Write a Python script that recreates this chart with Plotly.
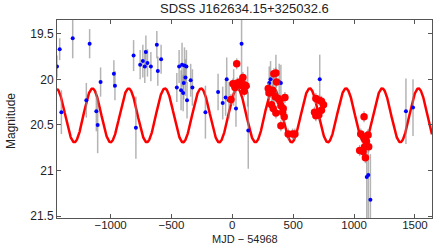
import numpy as np
import plotly.graph_objects as go

# Blue points (older survey photometry)
blue_x = [-1440, -1418, -1404, -1311, -1172, -1199, -1117, -1106, -1082, -973, -964,
          -811, -792, -757, -735, -719, -710, -697, -669, -620, -612, -585,
          -456, -437, -421, -413, -404, -399, -393, -385, -377, -372, -342, -328,
          -221, -117, -79, -55, -46, -27, 11, 30, 76, 126, 131,
          303, 314, 328, 341, 358, 385, 399, 718, 1104, 1117, 1134, 1426, 1484]
blue_y = [19.86, 19.67, 20.36, 19.55, 19.61, 20.23, 20.35, 20.50, 20.03, 19.94, 20.07,
          19.74, 20.53, 19.84, 19.80, 19.86, 19.70, 19.82, 19.86, 19.62, 19.91, 19.78,
          20.09, 19.86, 20.12, 19.84, 20.15, 20.04, 19.85, 19.98, 19.86, 20.23, 20.01, 20.09,
          20.36, 20.14, 20.26, 20.20, 20.00, 20.23, 20.09, 20.32, 19.61, 20.08, 20.56,
          20.04, 20.00, 20.16, 20.15, 19.95, 20.03, 20.04, 20.00, 21.07, 21.05, 21.32, 20.35, 20.31]
blue_err = [0.12, 0.12, 0.24, 0.22, 0.16, 0.19, 0.22, 0.31, 0.16, 0.15, 0.16,
            0.17, 0.34, 0.16, 0.18, 0.18, 0.18, 0.15, 0.16, 0.15, 0.16, 0.16,
            0.16, 0.18, 0.22, 0.24, 0.20, 0.18, 0.20, 0.20, 0.18, 0.20, 0.18, 0.20,
            0.29, 0.20, 0.18, 0.20, 0.24, 0.20, 0.20, 0.20, 0.45, 0.22, 0.42,
            0.18, 0.20, 0.20, 0.20, 0.22, 0.20, 0.20, 0.27, 0.50, 0.50, 0.50, 0.36, 0.31]

# Red points (newer photometry)
red_x = [36, 5, 41, 63, 87, 79, 98, 112, 98, 22, 49, -11,
         341, 358, 363, 295, 301, 331, 352, 322, 377, 391, 399, 432, 418, 358, 413, 426, 399,
         459, 495, 514, 336,
         686, 713, 732, 749, 732, 675, 710, 686,
         1082, 1055, 1079, 1093, 1115, 1087, 1120, 1046, 1074, 1093, 1101]
red_y = [19.83, 20.05, 20.04, 20.03, 19.98, 20.07, 20.06, 20.07, 20.13, 20.09, 20.06, 20.22,
         19.94, 19.93, 20.03, 20.10, 20.15, 20.12, 20.19, 20.28, 20.21, 20.24, 20.29, 20.20,
         20.32, 20.37, 20.36, 20.41, 20.51, 20.60, 20.60, 20.60, 20.32,
         20.21, 20.23, 20.24, 20.28, 20.34, 20.36, 20.39, 20.40,
         20.41, 20.60, 20.63, 20.66, 20.61, 20.74, 20.74, 20.78, 20.79, 20.86, 20.68]
red_err = [0.06] * len(red_x)

# Sinusoidal model parameters
model_mean = 20.395
model_amp = 0.295
model_period = 297.5
model_peak = 636.0

x_range = [-1440, 1640]
y_range = [21.52, 19.35]
x_ticks = [-1000, -500, 0, 500, 1000, 1500]
y_ticks = [19.5, 20, 20.5, 21, 21.5]
y_ticklabels = ["19.5", "20", "20.5", "21", "21.5"]

mx = np.linspace(x_range[0], x_range[1], 2000)
my = model_mean - model_amp * np.cos(2 * np.pi * (mx - model_peak) / model_period)

fig = go.Figure()
fig.add_trace(go.Scatter(x=mx, y=my, mode="lines",
                         line=dict(color="#ff0000", width=2.5), hoverinfo="skip"))
fig.add_trace(go.Scatter(x=blue_x, y=blue_y, mode="markers",
                         marker=dict(color="#0000ff", size=4, symbol="circle"),
                         error_y=dict(type="data", array=blue_err, color="rgba(140,140,140,0.65)",
                                      thickness=1.5, width=0)))
fig.add_trace(go.Scatter(x=red_x, y=red_y, mode="markers",
                         marker=dict(color="#ff0000", size=7.5, symbol="circle"),
                         error_y=dict(type="data", array=red_err, color="rgba(140,140,140,0.65)",
                                      thickness=1.5, width=0)))

font_family = "Liberation Sans, Arial, sans-serif"
W, H = 436, 245
L, R, T, B = 57, 4, 20, 27
pw, ph = W - L - R, H - T - B

fig.update_layout(
    width=W, height=H,
    margin=dict(l=L, r=R, t=T, b=B, autoexpand=False),
    paper_bgcolor="white", plot_bgcolor="white",
    showlegend=False,
    font=dict(family=font_family, size=12, color="#222222"),
)
fig.add_annotation(text="SDSS J162634.15+325032.6", xref="paper", yref="paper",
                   x=0.5, y=1 + 11.5 / ph, xanchor="center", yanchor="middle",
                   showarrow=False, font=dict(size=13, color="#222222"))
fig.add_annotation(text="MJD − 54968", xref="paper", yref="paper",
                   x=0.5, y=-(238.5 - (H - B)) / ph, xanchor="center", yanchor="middle",
                   showarrow=False, font=dict(size=11, color="#222222"), borderpad=0)
fig.add_annotation(text="Magnitude", xref="paper", yref="paper",
                   x=-(L - 11) / pw, y=1 - (121 - T) / ph, xanchor="center", yanchor="middle",
                   textangle=-90, showarrow=False, font=dict(size=12, color="#222222"))

fig.update_xaxes(range=x_range, tickvals=x_ticks, ticks="inside", ticklen=4,
                 tickcolor="#555555", showline=True, linecolor="#555555", linewidth=1,
                 mirror="ticks", showgrid=False, zeroline=False, automargin=False,
                 tickfont=dict(size=11.5), ticklabelstandoff=-4)
fig.update_yaxes(range=y_range, tickvals=y_ticks, ticktext=y_ticklabels, ticks="inside",
                 ticklen=4, tickcolor="#555555", showline=True, linecolor="#555555",
                 linewidth=1, mirror="ticks", showgrid=False, zeroline=False,
                 automargin=False, tickfont=dict(size=12))

fig.write_html("out.html", config={"displayModeBar": False},
               post_script="document.body.style.margin='0px';document.body.style.overflow='hidden';")
